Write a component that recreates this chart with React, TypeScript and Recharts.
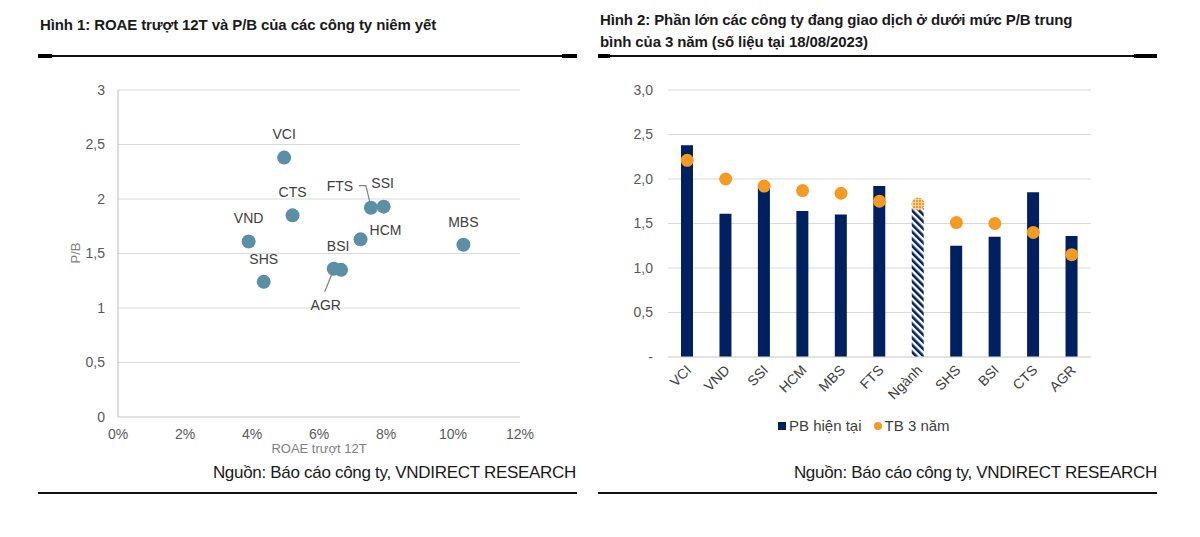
import {
  ScatterChart,
  Scatter,
  ComposedChart,
  Bar,
  Line,
  Cell,
  XAxis,
  YAxis,
  CartesianGrid,
  Legend,
  Label,
} from 'recharts'

// Hình 1: ROAE trượt 12T (%) vs P/B
const SCATTER_NAMES = ['VCI', 'CTS', 'VND', 'SHS', 'FTS', 'SSI', 'HCM', 'MBS', 'BSI', 'AGR']
const SCATTER_ROAE = [4.96, 5.21, 3.9, 4.35, 7.55, 7.93, 7.24, 10.31, 6.66, 6.44]
const SCATTER_PB = [2.38, 1.85, 1.61, 1.24, 1.92, 1.93, 1.63, 1.58, 1.35, 1.36]
const ROAE_TICKS = [0, 2, 4, 6, 8, 10, 12]
const PB_TICKS = [0, 0.5, 1, 1.5, 2, 2.5, 3]

// Hình 2: P/B hiện tại vs TB 3 năm
const CATEGORIES = ['VCI', 'VND', 'SSI', 'HCM', 'MBS', 'FTS', 'Ngành', 'SHS', 'BSI', 'CTS', 'AGR']
const PB_CURRENT = [2.38, 1.61, 1.91, 1.64, 1.6, 1.92, 1.67, 1.25, 1.35, 1.85, 1.36]
const PB_AVG_3Y = [2.21, 2.0, 1.92, 1.87, 1.84, 1.75, 1.72, 1.51, 1.5, 1.4, 1.15]
const BAR_TICKS = [0, 0.5, 1, 1.5, 2, 2.5, 3]

const SECTOR = 'Ngành'
const NAVY = '#002060'
const ORANGE = '#F59A23'
const TEAL = '#5B8FA6'
const TEXT = '#404040'
const GRID = '#d9d9d9'
const FONT = '"Liberation Sans", Arial, sans-serif'

// label placement relative to each bubble
const LABEL_POS: Record<string, { dx: number; dy: number; leader?: number[] }> = {
  VCI: { dx: 0, dy: -24 },
  CTS: { dx: 0, dy: -23 },
  VND: { dx: 0, dy: -24 },
  SHS: { dx: 0, dy: -23 },
  FTS: { dx: -31, dy: -22, leader: [-12, -22, -5, -22, -1, -5] },
  SSI: { dx: -1, dy: -24 },
  HCM: { dx: 25, dy: -9 },
  MBS: { dx: 0, dy: -23 },
  BSI: { dx: -3, dy: -24 },
  AGR: { dx: -8, dy: 36, leader: [-9, 23, -1, 3] },
}

const scatterData = SCATTER_NAMES.map((name, i) => ({
  name,
  roae: SCATTER_ROAE[i],
  pb: SCATTER_PB[i],
}))

const barData = CATEGORIES.map((name, i) => ({
  name,
  current: PB_CURRENT[i],
  avg: PB_AVG_3Y[i],
}))

const commaNum = (v: number) => String(v).replace('.', ',')

function Bubble(props: any) {
  const { cx, cy, payload } = props
  const pos = LABEL_POS[payload.name]
  let leader = null
  if (pos.leader) {
    const pts = []
    for (let i = 0; i < pos.leader.length; i += 2) {
      pts.push(`${cx + pos.leader[i]},${cy + pos.leader[i + 1]}`)
    }
    leader = <polyline points={pts.join(' ')} fill="none" stroke="#7f7f7f" strokeWidth={1.2} />
  }
  return (
    <g>
      {leader}
      <circle cx={cx} cy={cy} r={7} fill={TEAL} />
      <text
        x={cx + pos.dx}
        y={cy + pos.dy}
        textAnchor="middle"
        dominantBaseline="central"
        fontSize={14}
        fill={TEXT}
        fontFamily={FONT}
      >
        {payload.name}
      </text>
    </g>
  )
}

function AvgDot(props: any) {
  const { cx, cy, payload, index } = props
  if (cx == null || cy == null) return null
  const fill = payload.name === SECTOR ? 'url(#dotFill)' : ORANGE
  return <circle key={`d-${index}`} cx={cx} cy={cy} r={6.5} fill={fill} />
}

function RotatedTick(props: any) {
  const { x, y, payload } = props
  return (
    <text
      x={x + 5}
      y={y + 6}
      textAnchor="end"
      transform={`rotate(-45 ${x + 5} ${y + 6})`}
      fontSize={14}
      fill={TEXT}
      fontFamily={FONT}
    >
      {payload.value}
    </text>
  )
}

function BarLegend() {
  return (
    <div
      style={{
        display: 'flex',
        alignItems: 'center',
        marginLeft: 155,
        fontSize: 15,
        color: TEXT,
        fontFamily: FONT,
      }}
    >
      <span style={{ width: 8, height: 8, background: NAVY, display: 'inline-block', marginRight: 3 }} />
      <span style={{ marginRight: 12 }}>PB hiện tại</span>
      <span
        style={{
          width: 8,
          height: 8,
          borderRadius: 4,
          background: ORANGE,
          display: 'inline-block',
          marginRight: 3,
        }}
      />
      <span>TB 3 năm</span>
    </div>
  )
}

function Rule({ left, width, top, blockL, blockR }: any) {
  return (
    <div style={{ position: 'absolute', left, top, width, height: 4 }}>
      <div style={{ position: 'absolute', left: 0, right: 0, top: 1, height: 2, background: '#111' }} />
      <div style={{ position: 'absolute', left: 0, width: blockL, top: 0, height: 4, background: '#000' }} />
      <div style={{ position: 'absolute', right: 0, width: blockR, top: 0, height: 4, background: '#000' }} />
    </div>
  )
}

const titleStyle: any = {
  position: 'absolute',
  fontSize: 15,
  fontWeight: 'bold',
  color: '#1a1a1a',
  lineHeight: '22px',
  fontFamily: FONT,
  letterSpacing: -0.1,
}

const sourceStyle: any = {
  position: 'absolute',
  fontSize: 17,
  color: '#1a1a1a',
  fontFamily: FONT,
  textAlign: 'right',
  letterSpacing: -0.3,
  whiteSpace: 'nowrap',
}

export default function App() {
  return (
    <div
      style={{
        position: 'absolute',
        left: 0,
        top: 0,
        width: 1200,
        height: 537,
        background: '#fff',
        fontFamily: FONT,
        overflow: 'hidden',
      }}
    >
      <div style={{ ...titleStyle, left: 40, top: 14 }}>
        Hình 1: ROAE trượt 12T và P/B của các công ty niêm yết
      </div>
      <div style={{ ...titleStyle, left: 600, top: 9, width: 490 }}>
        Hình 2: Phần lớn các công ty đang giao dịch ở dưới mức P/B trung bình của 3 năm (số liệu tại
        18/08/2023)
      </div>
      <Rule left={38} width={539} top={54} blockL={14} blockR={15} />
      <Rule left={598} width={559} top={54} blockL={12} blockR={23} />

      <div
        style={{
          position: 'absolute',
          left: 75,
          top: 253,
          transform: 'translate(-50%, -50%) rotate(-90deg)',
          fontSize: 13,
          color: '#7f7f7f',
        }}
      >
        P/B
      </div>

      <div style={{ position: 'absolute', left: 60, top: 80 }}>
        <ScatterChart width={480} height={380} margin={{ top: 10, right: 20, bottom: 0, left: 18 }}>
          <CartesianGrid stroke={GRID} vertical={false} />
          <XAxis
            type="number"
            dataKey="roae"
            domain={[0, 12]}
            ticks={ROAE_TICKS}
            tickFormatter={(v: number) => `${v}%`}
            height={43}
            tickLine={false}
            axisLine={{ stroke: GRID }}
            tickMargin={6}
            tick={{ fontSize: 14, fill: '#595959', fontFamily: FONT }}
          >
            <Label
              value="ROAE trượt 12T"
              position="insideBottom"
              offset={7}
              style={{ fontSize: 13, fill: '#7f7f7f', fontFamily: FONT }}
            />
          </XAxis>
          <YAxis
            type="number"
            dataKey="pb"
            domain={[0, 3]}
            ticks={PB_TICKS}
            tickFormatter={commaNum}
            width={40}
            tickLine={false}
            axisLine={{ stroke: '#bfbfbf' }}
            tickMargin={7}
            tick={{ fontSize: 14, fill: '#595959', fontFamily: FONT }}
          />
          <Scatter data={scatterData} shape={Bubble} isAnimationActive={false} />
        </ScatterChart>
      </div>

      <div style={{ position: 'absolute', left: 610, top: 80 }}>
        <ComposedChart
          width={500}
          height={380}
          data={barData}
          margin={{ top: 10, right: 19, bottom: 0, left: 13 }}
        >
          <defs>
            <pattern id="hatch" width="5" height="5" patternUnits="userSpaceOnUse" patternTransform="rotate(-45)">
              <rect width="5" height="5" fill="#fff" />
              <rect width="2.6" height="5" fill={NAVY} />
            </pattern>
            <pattern id="dotFill" width="3" height="3" patternUnits="userSpaceOnUse">
              <rect width="3" height="3" fill="#fbd3a4" />
              <rect width="2" height="2" fill={ORANGE} />
            </pattern>
          </defs>
          <CartesianGrid stroke={GRID} vertical={false} />
          <XAxis
            dataKey="name"
            height={60}
            interval={0}
            tickLine={false}
            axisLine={{ stroke: GRID }}
            tick={<RotatedTick />}
          />
          <YAxis
            domain={[0, 3]}
            ticks={BAR_TICKS}
            tickFormatter={(v: number) => (v === 0 ? '-' : v.toFixed(1).replace('.', ','))}
            width={45}
            tickLine={false}
            axisLine={false}
            tickMargin={9}
            tick={{ fontSize: 14, fill: '#595959', fontFamily: FONT }}
          />
          <Legend verticalAlign="bottom" height={43} content={<BarLegend />} />
          <Bar dataKey="current" name="PB hiện tại" barSize={12} isAnimationActive={false}>
            {barData.map((d, i) => (
              <Cell key={`c-${i}`} fill={d.name === SECTOR ? 'url(#hatch)' : NAVY} />
            ))}
          </Bar>
          <Line
            dataKey="avg"
            name="TB 3 năm"
            stroke="none"
            dot={AvgDot}
            activeDot={false}
            isAnimationActive={false}
          />
        </ComposedChart>
      </div>

      <div style={{ ...sourceStyle, right: 1200 - 576, top: 463 }}>
        Nguồn: Báo cáo công ty, VNDIRECT RESEARCH
      </div>
      <div style={{ ...sourceStyle, right: 1200 - 1157, top: 463 }}>
        Nguồn: Báo cáo công ty, VNDIRECT RESEARCH
      </div>
      <div style={{ position: 'absolute', left: 38, top: 492, width: 539, height: 2, background: '#111' }} />
      <div style={{ position: 'absolute', left: 598, top: 492, width: 559, height: 2, background: '#111' }} />
    </div>
  )
}
